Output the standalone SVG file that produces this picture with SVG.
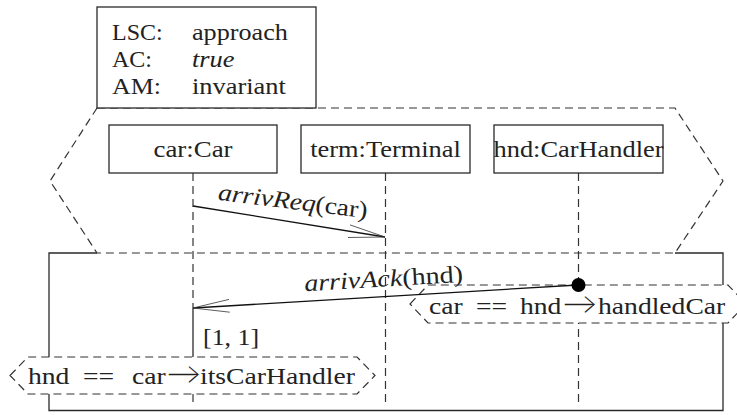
<svg xmlns="http://www.w3.org/2000/svg" width="737" height="415" viewBox="0 0 737 415" font-family="Liberation Serif, serif" font-size="24">
<style>
.t{font-family:'Liberation Serif',serif;font-size:24px;fill:#222}
.it{font-style:italic}
.ar{font-family:Lato,'DejaVu Sans',sans-serif;font-size:30px;font-weight:300}
.box{fill:#fff;stroke:#2a2a2a;stroke-width:1.3}
.solid{fill:none;stroke:#2a2a2a;stroke-width:1.3}
.dash{fill:none;stroke:#333;stroke-width:1.2;stroke-dasharray:8 5}
.cond{fill:#fff;stroke:#333;stroke-width:1.2;stroke-dasharray:8 5}
.msg{fill:none;stroke:#111;stroke-width:1.3}
.head{fill:none;stroke:#333;stroke-width:0.8}
</style>
<rect width="737" height="415" fill="#fff"/>
<g id="chart">
<path class="solid" d="M97,253 H49 V410.5 H723 V253 H675"/>
</g>
<g id="prechart">
<polygon class="dash" points="97,108 675,108 723,181 675,253 97,253 50,181"/>
</g>
<g id="header">
<rect class="box" x="97" y="7" width="219" height="101"/>
<text class="t" x="112" y="40">LSC:</text>
<text class="t" transform="translate(192,40) scale(1.09,1)">approach</text>
<text class="t" x="112" y="67">AC:</text>
<text class="t it" transform="translate(192,67) scale(1.1,1)">true</text>
<text class="t" transform="translate(112,94) scale(1.08,1)">AM:</text>
<text class="t" transform="translate(192,94) scale(1.1,1)">invariant</text>
</g>
<g id="connectors">
<line class="dash" x1="193" y1="173" x2="193" y2="308"/>
<line class="solid" x1="193" y1="308" x2="193" y2="357"/>
<line class="dash" x1="193" y1="394" x2="193" y2="404"/>
<line class="dash" x1="385.5" y1="173" x2="385.5" y2="404"/>
<line class="dash" x1="578.5" y1="173" x2="578.5" y2="404"/>
</g>
<g id="car">
<rect class="box" x="109" y="125" width="168" height="48"/>
<text class="t" transform="translate(193,157) scale(1.12,1)" text-anchor="middle">car:Car</text>
</g>
<g id="term">
<rect class="box" x="301" y="125" width="169" height="48"/>
<text class="t" transform="translate(385.5,157) scale(1.1,1)" text-anchor="middle">term:Terminal</text>
</g>
<g id="hnd">
<rect class="box" x="494" y="125" width="169" height="48"/>
<text class="t" transform="translate(578.5,157) scale(1.1,1)" text-anchor="middle">hnd:CarHandler</text>
</g>
<g id="cond1">
<polygon class="cond" points="410,304 428,285 728,285 746,304 728,323 428,323"/>
<text class="t" transform="translate(429,313.5) scale(1.15,1)"><tspan x="0">car</tspan><tspan x="40.9">==</tspan><tspan x="79.1">hnd</tspan><tspan class="ar" x="116">→</tspan><tspan x="147">handledCar</tspan></text>
</g>
<g id="cond2">
<polygon class="cond" points="10,375.5 28,357 357,357 375,375.5 357,394 28,394"/>
<text class="t" transform="translate(28,383.5) scale(1.15,1)"><tspan x="0">hnd</tspan><tspan x="47.8">==</tspan><tspan x="90.4">car</tspan><tspan class="ar" x="120.5">→</tspan><tspan x="149.6">itsCarHandler</tspan></text>
</g>
<g id="messages">
<line class="msg" x1="193" y1="206" x2="385" y2="237"/>
<polyline class="head" points="350,224.9 385,237 348,237.5"/>
<text class="t" transform="translate(292,209) rotate(7) scale(1.15,1)" text-anchor="middle"><tspan class="it">arrivReq</tspan>(car)</text>
<line class="msg" x1="578" y1="285" x2="193" y2="308"/>
<polyline class="head" points="229,299.4 193,308 229.8,312.2"/>
<text class="t" transform="translate(384,286.5) rotate(-3.4) scale(1.17,1)" text-anchor="middle"><tspan class="it">arrivAck</tspan>(hnd)</text>
<circle cx="578.5" cy="285" r="7" fill="#000"/>
<text class="t" transform="translate(203,345) scale(1.08,1)">[1, 1]</text>
</g>
</svg>
